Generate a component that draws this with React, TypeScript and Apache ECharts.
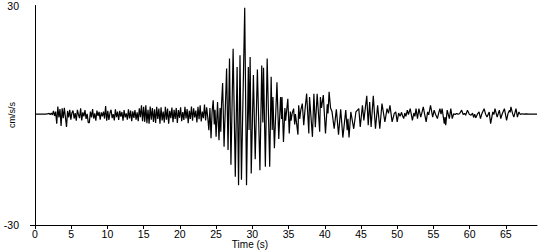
import React, { useEffect, useRef } from "react";
import * as echarts from "echarts";

// Pre-event noise, sampled every NOISE_DT seconds starting at t = 0 s (cm/s/s)
const NOISE_DT = 0.15;
const preEventNoise = [
  0.3, 0.3, 0.3, 0.3, 0.3, 0.3, 0.3, 0.3, 0.3, 0.3,
  0.3, 0.4, 0.4, 0.5, 0.2, 0.6, 0.1, 1.2, -0.2, 1.0,
  -2.3, 2.4, -0.6, 1.7, -2.9, 1.9, -0.8, 2.0, -0.5, -3.2,
  1.2, -0.6, 1.5, -1.2, 0.7, 1.3, -0.9, 0.6, -1.5, 1.5,
  0.2, -0.8, 1.9, -1.4, 0.8, -0.3, 1.4, -1.0, 0.4, -2.0,
  -2.0, 1.0, -0.6, 1.7, -0.9, 0.5, -1.5, 1.3, -0.2, 0.9,
  -1.2, 0.8, -0.3, 1.0, -0.9, 2.5, -1.5, 1.2, -1.3, 0.6,
  1.5, -0.8, 0.3, -1.4, 1.6, -0.5, 1.0, -1.3, 1.2, -0.4,
  0.9, -1.5, 1.4, -0.6, 0.5, -1.2, 1.6, -0.9, 1.3, -1.6,
  1.1, -0.7, 1.4, -1.2, 0.8, -1.6, 1.9, -0.5, 2.7, -1.6,
  2.3, -1.8, 2.7, -2.2, 1.5, -2.3, 2.4, -1.2, 2.0, -1.8,
  1.6, -2.1, 2.3, -1.0, 1.8, -2.3, 2.2, -1.4, 1.0, -2.0,
  2.3, -1.2, 1.8, -2.3, 1.2, -0.8, 2.1, -1.9, 1.5, -1.0,
  2.0, -2.1, 1.4, -0.7, 2.2, -1.6, 0.9, -1.3, 2.3, -0.9,
  1.7, -2.2, 1.2, -1.0, 2.4, -1.5, 1.9, -0.6, 1.3, -2.0,
  2.3, -1.1, 2.7, -1.7, 1.0, -0.8, 2.9, -1.4, 2.2, -0.6,
];

// Strong motion: [time (s), acceleration (cm/s/s)]
const strongMotion = [
  [24.0, -4.1], [24.15, 2.0], [24.3, -6.3], [24.45, 1.0], [24.6, 4.1], [24.75, -2.5],
  [24.85, 1.5], [25.0, -5.9], [25.2, 3.6], [25.4, -6.8], [25.55, 2.0], [25.65, -4.5],
  [25.75, 3.0], [25.9, 8.8], [26.1, -8.6], [26.45, 12.8], [26.65, -9.5], [26.85, 15.5],
  [27.05, -13.5], [27.35, 18.2], [27.65, -16.8], [27.9, 13.2], [28.1, -19.1], [28.3, 16.4],
  [28.5, -17.6], [28.95, 29.4], [29.2, -19.1], [29.45, 13.2], [29.55, -4.0], [29.7, 15.9],
  [29.85, -15.9], [30.15, 11.0], [30.4, -12.0], [30.7, 12.5], [31.05, -15.0], [31.3, 13.6],
  [31.45, -2.0], [31.55, 13.0], [31.8, -14.1], [32.05, 15.5], [32.4, -14.1], [32.6, 10.5],
  [32.75, -4.0], [32.85, 5.0], [33.05, -9.0], [33.4, 9.0], [33.65, -6.5], [33.9, 5.0],
  [34.05, -1.0], [34.1, 5.0], [34.3, -7.3], [34.5, 2.0], [34.6, -1.5], [34.9, 4.5],
];

// Coda: [time (s), acceleration (cm/s/s)]
const coda = [
  [35.1, -5.0], [35.25, 1.0], [35.35, -1.5], [35.5, 0.5], [35.7, 1.8], [35.85, -2.5],
  [35.95, 0.3], [36.1, -2.0], [36.3, -5.3], [36.4, 2.7], [36.55, -1.0], [36.7, 1.5],
  [36.9, 3.2], [37.1, -2.7], [37.25, 1.0], [37.5, 5.9], [37.8, -5.0], [37.9, 5.0],
  [38.3, -5.9], [38.5, 5.9], [38.7, -3.3], [38.95, 5.9], [39.3, -4.5], [39.4, 5.0],
  [39.55, 2.0], [39.8, 5.5], [40.1, -5.0], [40.35, 3.0], [40.45, 0.5], [40.6, 6.4],
  [40.8, 2.0], [41.0, 1.0], [41.3, -3.7], [41.6, 1.6], [41.9, -5.3], [42.2, 1.6],
  [42.5, -6.1], [42.9, 1.4], [43.1, -4.1], [43.2, -1.0], [43.35, -6.1], [43.6, 0.9],
  [44.0, -3.7], [44.3, 0.9], [44.7, 1.8], [44.9, -3.2], [45.2, 2.7], [45.4, -1.4],
  [45.8, 5.3], [46.0, -2.7], [46.2, 3.6], [46.4, -3.2], [46.7, 5.3], [47.0, -3.7],
  [47.3, 2.7], [47.6, -3.7], [47.9, 3.2], [48.3, -1.8], [48.6, 1.8], [48.8, 0.5],
  [49.0, 2.7], [49.3, -1.8], [49.6, 0.5], [49.8, 0.9], [50.0, -1.8], [50.2, 0.6],
];

// Tail: [time (s), acceleration (cm/s/s)]
const tail = [
  [50.4, -0.3], [50.6, 0.8], [50.75, -0.2], [50.9, -0.9], [51.05, 0.6], [51.2, -0.3],
  [51.4, 1.4], [51.55, 0.2], [51.8, 1.8], [52.1, -1.4], [52.3, 0.6], [52.45, -0.3],
  [52.6, 1.8], [52.8, -0.9], [53.0, 1.8], [53.25, -0.5], [53.4, 0.6], [53.6, 2.3],
  [53.8, 0.2], [54.0, -1.8], [54.2, 0.9], [54.35, 0.1], [54.6, 2.7], [54.9, -0.5],
  [55.1, 1.4], [55.3, 0.2], [55.55, -0.9], [55.75, 0.8], [55.9, 1.8], [56.05, 0.3],
  [56.2, 1.8], [56.5, -2.3], [56.6, -0.5], [56.7, -2.7], [56.9, 1.4], [57.2, -0.9],
  [57.4, 1.8], [57.6, -0.9], [57.8, 0.4], [58.0, 0.2], [58.2, 0.5], [58.4, 0.3],
  [58.6, 0.4], [58.9, 1.4], [59.1, 0.2], [59.3, 0.5], [59.45, 0.0], [59.7, 1.4],
  [59.95, 0.3], [60.2, 0.0], [60.4, 0.6], [60.55, -0.6], [60.7, 0.3], [60.85, -0.7],
  [61.1, 0.4], [61.3, 0.9], [61.5, -0.9], [61.7, 0.5], [62.0, 1.8], [62.2, 0.3],
  [62.4, -0.5], [62.7, 0.9], [62.9, -2.3], [63.2, 0.9], [63.35, 0.2], [63.5, 1.8],
  [63.8, -0.5], [64.1, 1.4], [64.3, -0.9], [64.5, 0.4], [64.8, 1.8], [65.1, -1.4],
  [65.3, 0.5], [65.5, 1.4], [65.6, 0.8], [65.7, 2.3], [65.95, 0.3], [66.1, -0.5],
  [66.4, 1.8], [66.6, -0.5], [66.8, 0.9], [67.0, 0.2], [67.2, 0.4], [67.5, 0.3],
  [67.8, 0.4], [68.2, 0.3], [68.6, 0.3], [69.0, 0.3], [69.3, 0.3],
];

const xTickValues = [0, 5, 10, 15, 20, 25, 30, 35, 40, 45, 50, 55, 60, 65];
const yTickLabels = [-30, 30];
const X_MIN = 0;
const X_MAX = 69.3;
const Y_MIN = -30;
const Y_MAX = 30;
const X_TITLE = "Time (s)";
const Y_TITLE = "cm/s/s";

const NARROW = '"Liberation Sans Narrow", "Arial Narrow", "Liberation Sans", Arial, sans-serif';
const REGULAR = '"Liberation Sans", Arial, sans-serif';

export default function App() {
  const ref = useRef<HTMLDivElement>(null);

  useEffect(() => {
    if (!ref.current) return;
    const chart = echarts.init(ref.current, null, { renderer: "svg" });
    const data = [
      ...preEventNoise.map((v, i) => [Math.round(i * NOISE_DT * 100) / 100, v]),
      ...strongMotion,
      ...coda,
      ...tail,
    ];
    chart.setOption({
      animation: false,
      grid: { left: 35, right: 13, top: 5, bottom: 25 },
      xAxis: {
        type: "value",
        min: X_MIN,
        max: X_MAX,
        axisLine: { onZero: false, lineStyle: { color: "#000", width: 1 } },
        axisTick: {
          show: true,
          customValues: xTickValues,
          length: 4,
          lineStyle: { color: "#000", width: 1 },
        },
        axisLabel: {
          customValues: xTickValues,
          margin: 3,
          color: "#000",
          fontSize: 10.5,
          lineHeight: 11,
          fontFamily: NARROW,
        },
        splitLine: { show: false },
      },
      yAxis: {
        type: "value",
        min: Y_MIN,
        max: Y_MAX,
        axisLine: { show: true, onZero: false, lineStyle: { color: "#000", width: 1 } },
        axisTick: {
          show: true,
          customValues: [Y_MIN],
          length: 5,
          lineStyle: { color: "#000", width: 1 },
        },
        axisLabel: {
          customValues: yTickLabels,
          margin: 16,
          color: "#000",
          fontSize: 10.5,
          fontFamily: NARROW,
        },
        splitLine: { show: false },
      },
      series: [
        {
          type: "line",
          data,
          symbol: "none",
          showSymbol: false,
          lineStyle: { color: "#000", width: 1.2 },
        },
      ],
      graphic: [
        {
          type: "text",
          x: 250,
          y: 244.5,
          style: {
            text: X_TITLE,
            fill: "#000",
            fontSize: 10,
            lineHeight: 10,
            fontFamily: REGULAR,
            align: "center",
            verticalAlign: "middle",
          },
        },
        {
          type: "text",
          x: 12,
          y: 115,
          rotation: Math.PI / 2,
          style: {
            text: Y_TITLE,
            fill: "#000",
            fontSize: 9,
            fontFamily: NARROW,
            align: "center",
            verticalAlign: "middle",
          },
        },
      ],
    });
    return () => chart.dispose();
  }, []);

  return (
    <div
      ref={ref}
      style={{ position: "fixed", left: 0, top: 0, width: 550, height: 250, background: "#fff" }}
    />
  );
}
